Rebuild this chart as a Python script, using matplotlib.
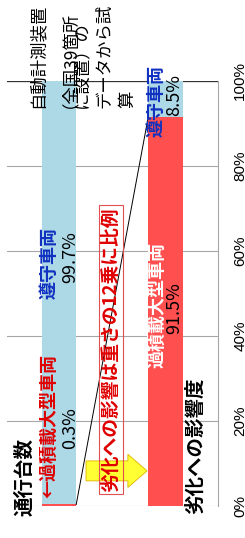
#!/usr/bin/env python3
import matplotlib
matplotlib.use("Agg")
import matplotlib.pyplot as plt
from matplotlib.patches import FancyArrow

plt.rcParams['font.family'] = ['Noto Sans CJK JP', 'DejaVu Sans']

# data (stacked share, %)
categories = ['通行台数', '劣化への影響度']
overloaded = [0.3, 91.5]     # 過積載大型車両
compliant = [99.7, 8.5]      # 遵守車両
ticks = [0, 20, 40, 60, 80, 100]
tick_labels = ['0%', '20%', '40%', '60%', '80%', '100%']
note_lines = ['自動計測装置', '（全国39箇所', 'に設置）の', 'データから試', '算']

red = '#FF4F4F'
blue = '#ADD8E6'
navy = '#1030C0'

fig = plt.figure(figsize=(2.45, 5.38), dpi=100)
ax = fig.add_axes([7 / 245, 1 - 505.7 / 538, 211 / 245, 424.7 / 538])

x = [0, 1]
w = 0.324
ax.bar(x, overloaded, width=w, color=red, zorder=2)
ax.bar(x, compliant, bottom=overloaded, width=w, color=blue, zorder=2)
ax.set_xlim(-0.488, 1.493)
ax.set_ylim(0, 100)

# connector between the overloaded segments
ax.plot([x[0] + w / 2, x[1] - w / 2], overloaded, color='black', lw=0.7, zorder=3)

# axis formatting
for s in ['top', 'left', 'bottom']:
    ax.spines[s].set_visible(False)
ax.spines['right'].set_color('#A6A6A6')
ax.set_xticks([])
ax.yaxis.tick_right()
ax.set_yticks(ticks)
ax.set_yticklabels(tick_labels, rotation=90, va='center', fontsize=11,
                   family='Liberation Sans')
ax.tick_params(axis='y', length=0, pad=11)
ax.set_axisbelow(True)
ax.yaxis.grid(True, color='#A6A6A6', lw=0.8)
ax.axhline(100, color='#333333', lw=0.9, zorder=1)

# yellow arrow
arr = FancyArrow(0.254, 8.2, 0.573, 0, width=4.7, head_width=7.8,
                 head_length=0.18, length_includes_head=True,
                 fc='#FFFF33', ec='#E0B000', lw=0.6, zorder=4)
ax.add_patch(arr)

# boxed note
ax.text(0.488, 36.7, '劣化への影響は重さの12乗に比例', rotation=90, color='#E00000',
        fontsize=13.5, fontweight='bold', ha='center', va='center', zorder=5,
        bbox=dict(boxstyle='square,pad=0.12', fc='none', ec='#E05050', lw=0.8))

# bar labels
ax.text(x[0] - 0.089, 57.1, '遵守車両', rotation=90, color=navy, fontsize=13,
        fontweight='bold', ha='center', va='center', zorder=5)
ax.text(x[0] + 0.104, 58.5, '99.7%', rotation=90, color='black', fontsize=13,
        ha='center', va='center', zorder=5)
ax.text(x[0] - 0.099, 18.8, '←過積載大型車両', rotation=90, color='#E00000', fontsize=13,
        fontweight='bold', ha='center', va='center', zorder=5)
ax.text(x[0] + 0.104, 18.3, '0.3%', rotation=90, color='black', fontsize=13,
        ha='center', va='center', zorder=5)

ax.text(x[1] - 0.085, 95.3, '遵守車両', rotation=90, color=navy, fontsize=13,
        fontweight='bold', ha='center', va='center', zorder=5, clip_on=False)
ax.text(x[1] + 0.085, 96.7, '8.5%', rotation=90, color='black', fontsize=13,
        ha='center', va='center', zorder=5, clip_on=False)
ax.text(x[1] - 0.085, 47.3, '過積載大型車両', rotation=90, color='white', fontsize=13,
        fontweight='bold', ha='center', va='center', zorder=5)
ax.text(x[1] + 0.085, 46.6, '91.5%', rotation=90, color='black', fontsize=13,
        ha='center', va='center', zorder=5)

# category titles
ax.text(-0.319, 6.7, categories[0], rotation=90, color='black', fontsize=14,
        fontweight='bold', ha='center', va='center', zorder=5, clip_on=False)
ax.text(1.277, 14.0, categories[1], rotation=90, color='black', fontsize=14,
        fontweight='bold', ha='center', va='center', zorder=5, clip_on=False)

# source note, one line at a time (baseline anchored so lines stay evenly spaced)
for i, line in enumerate(note_lines):
    ax.text(-0.154 + 0.21 * i, 93.6, line, rotation=90, rotation_mode='anchor',
            ha='left', va='baseline', fontsize=12.5, color='black',
            zorder=5, clip_on=False)

plt.savefig('out.png', dpi=100)
